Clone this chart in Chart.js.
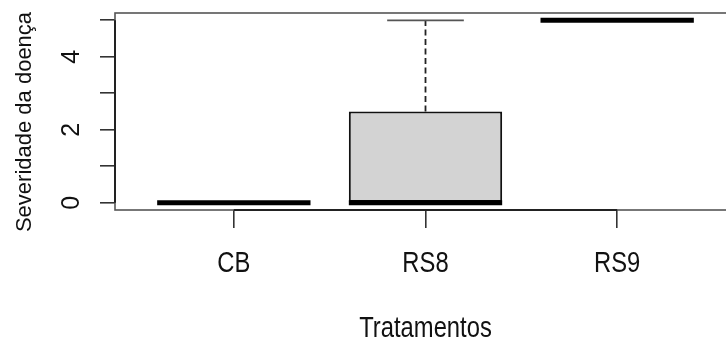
<!DOCTYPE html>
<html><head><meta charset="utf-8">
<script src="https://cdn.jsdelivr.net/npm/chart.js@4"></script>
<style>html,body{margin:0;padding:0;overflow:hidden;background:#fff;width:726px;height:340px}canvas{display:block}</style>
</head><body><canvas id="c" width="760" height="340" style="width:760px;height:340px"></canvas>
<script>
const categories = ['CB', 'RS8', 'RS9'];
const positions = [1, 2, 3];
const minVals = [0, 0, 5];
const q1Vals = [0, 0, 5];
const medianVals = [0, 0, 5];
const q3Vals = [0, 2.5, 5];
const maxVals = [0, 5, 5];
const yTickValues = [0, 1, 2, 3, 4, 5];
const yTickLabels = ['0', '', '2', '', '4', ''];
const xTitle = 'Tratamentos';
const yTitle = 'Severidade da doença';

const boxPlugin = {
  id: 'boxParts',
  afterDatasetsDraw(chart) {
    const {ctx, scales: {x, y}} = chart;
    ctx.save();
    positions.forEach((p, i) => {
      const cx = x.getPixelForValue(p);
      const capL = x.getPixelForValue(p - 0.2), capR = x.getPixelForValue(p + 0.2);
      const bl = x.getPixelForValue(p - 0.4), br = x.getPixelForValue(p + 0.4);
      ctx.lineCap = 'butt';
      ctx.strokeStyle = '#222'; ctx.lineWidth = 1.8; ctx.setLineDash([6, 3.5]);
      if (maxVals[i] > q3Vals[i]) {
        ctx.beginPath(); ctx.moveTo(cx, y.getPixelForValue(q3Vals[i])); ctx.lineTo(cx, y.getPixelForValue(maxVals[i])); ctx.stroke();
      }
      if (minVals[i] < q1Vals[i]) {
        ctx.beginPath(); ctx.moveTo(cx, y.getPixelForValue(q1Vals[i])); ctx.lineTo(cx, y.getPixelForValue(minVals[i])); ctx.stroke();
      }
      ctx.setLineDash([]);
      ctx.strokeStyle = '#555'; ctx.lineWidth = 1.8;
      [maxVals[i], minVals[i]].forEach(v => {
        const py = y.getPixelForValue(v);
        ctx.beginPath(); ctx.moveTo(capL, py); ctx.lineTo(capR, py); ctx.stroke();
      });
      ctx.strokeStyle = '#000'; ctx.lineWidth = 5;
      const my = y.getPixelForValue(medianVals[i]);
      ctx.beginPath(); ctx.moveTo(bl, my); ctx.lineTo(br, my); ctx.stroke();
    });
    ctx.restore();
  },
  afterDraw(chart) {
    const {ctx, chartArea: a, scales: {x, y}} = chart;
    ctx.save();
    ctx.strokeStyle = '#555'; ctx.lineWidth = 1.6;
    ctx.strokeRect(a.left, a.top, a.right - a.left, a.bottom - a.top);
    ctx.strokeStyle = '#222'; ctx.lineWidth = 2;
    ctx.beginPath();
    ctx.moveTo(a.left, y.getPixelForValue(yTickValues[0]));
    ctx.lineTo(a.left, y.getPixelForValue(yTickValues[yTickValues.length - 1]));
    ctx.moveTo(x.getPixelForValue(positions[0]), a.bottom);
    ctx.lineTo(x.getPixelForValue(positions[positions.length - 1]), a.bottom);
    ctx.stroke();
    ctx.fillStyle = '#111';
    ctx.textAlign = 'center'; ctx.textBaseline = 'middle';
    ctx.font = '25px "Liberation Sans", Arial, sans-serif';
    yTickValues.forEach((v, i) => {
      if (!yTickLabels[i]) return;
      ctx.save();
      ctx.translate(72.5, y.getPixelForValue(v));
      ctx.rotate(-Math.PI / 2);
      ctx.fillText(yTickLabels[i], 0, 0);
      ctx.restore();
    });
    ctx.save();
    ctx.font = '22px "Liberation Sans", Arial, sans-serif';
    ctx.translate(25, 122);
    ctx.rotate(-Math.PI / 2);
    ctx.fillText(yTitle, 0, 0);
    ctx.restore();
    ctx.font = '29px "Liberation Sans", Arial, sans-serif';
    ctx.textBaseline = 'alphabetic';
    positions.forEach((p, i) => {
      ctx.save();
      ctx.translate(x.getPixelForValue(p), 272);
      ctx.scale(0.82, 1);
      ctx.fillText(categories[i], 0, 0);
      ctx.restore();
    });
    ctx.save();
    ctx.translate((a.left + a.right) / 2, 337);
    ctx.scale(0.82, 1);
    ctx.fillText(xTitle, 0, 0);
    ctx.restore();
    ctx.restore();
  }
};

new Chart(document.getElementById('c'), {
  type: 'bar',
  data: {
    datasets: [{
      data: positions.map((p, i) => ({x: p, y: [q1Vals[i], q3Vals[i]]})),
      backgroundColor: '#d3d3d3',
      borderColor: '#111',
      borderWidth: 2,
      borderSkipped: false,
      barPercentage: 0.8,
      categoryPercentage: 1
    }]
  },
  options: {
    responsive: false,
    animation: false,
    devicePixelRatio: 1,
    layout: {padding: {left: 0, top: 13, right: 24, bottom: 0}},
    plugins: {legend: {display: false}, tooltip: {enabled: false}},
    scales: {
      x: {
        type: 'linear',
        offset: false,
        min: 0.38, max: 3.62,
        afterBuildTicks: s => { s.ticks = positions.map(v => ({value: v})); },
        afterFit: s => { s.height = 130; },
        grid: {display: true, offset: false, drawOnChartArea: false, drawTicks: true, tickLength: 18, color: '#333', lineWidth: 1.6},
        border: {display: false},
        ticks: {display: false},
        title: {display: false}
      },
      y: {
        type: 'linear',
        min: -0.2, max: 5.2,
        afterBuildTicks: s => { s.ticks = yTickValues.map(v => ({value: v})); },
        afterFit: s => { s.width = 115; },
        grid: {display: true, drawOnChartArea: false, drawTicks: true, tickLength: 15, color: '#333', lineWidth: 1.6},
        border: {display: false},
        ticks: {display: false}
      }
    }
  },
  plugins: [boxPlugin]
});
</script>
</body></html>
